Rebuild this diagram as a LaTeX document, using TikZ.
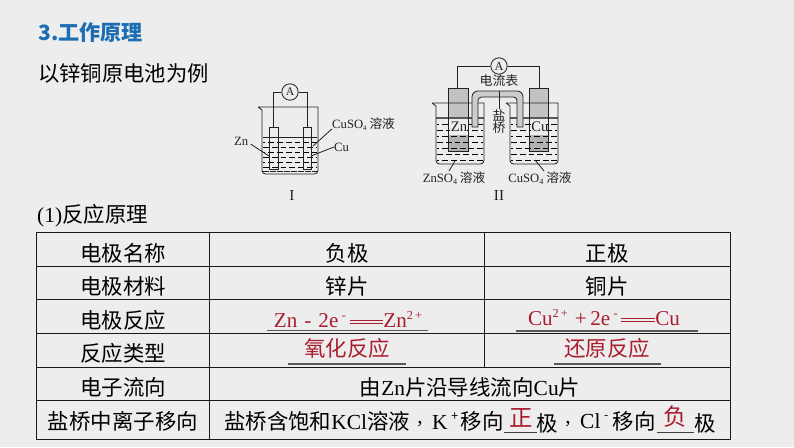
\documentclass[tikz,border=0pt]{standalone}
\usepackage{fontspec}
\setmainfont{Noto Sans CJK SC}
\newfontfamily\latin{Liberation Serif}
\definecolor{pagegray}{HTML}{EDEDED}
\definecolor{titleblue}{HTML}{1C6DB3}
\definecolor{answerred}{HTML}{A91D2F}
\definecolor{inkgray}{HTML}{222222}
\def\sups#1{\raisebox{0.42em}{\fontsize{10.5}{10}\selectfont #1}}
\def\longeq{\rlap{\rule[3.4pt]{29pt}{0.6pt}}\rule[5.8pt]{29pt}{0.6pt}}
\def\liquid(#1,#2,#3,#4,#5){\foreach \row [count=\n] in {#3,#5,...,#4} {
		\pgfmathsetmacro{\shift}{mod(\n,2)*3}
		\draw[line width=0.55pt, dash pattern=on 5pt off 2.5pt, dash phase=\shift pt] (#1, \row) -- (#2, \row);
	}}
\tikzset{
	every node/.style={inner sep=0pt, text=black},
	cell/.style={font=\fontsize{18.3}{20}\selectfont},
	answer/.style={font=\fontsize{18.3}{20}\selectfont, text=answerred},
	fig/.style={font=\fontsize{10.8}{12}\selectfont, text=inkgray},
	rule/.style={line width=0.8pt, color=black!90},
	wire/.style={line width=0.7pt, color=inkgray},
	blank/.style={line width=0.9pt, color=black!65}
}

\begin{document}
\begin{tikzpicture}[x=0.03cm, y=-0.03cm]
		%%%%% START %%%%%
		\useasboundingbox (0, 0) rectangle (794, 447);
		\fill[pagegray] (0, 0) rectangle (794, 447);
		
		\node[font=\fontsize{18}{20}\selectfont\bfseries, text=titleblue, anchor=west] (title) at (38, 33) {3.工作原理};
		\node[font=\fontsize{18.2}{20}\selectfont, anchor=west] (intro) at (38, 73) {以锌铜原电池为例};
		\node[font=\fontsize{18.3}{20}\selectfont, anchor=west] (heading) at (37, 215.5) {{\latin (1)}反应原理};
		
		%%%%% cell I %%%%%
		\node[draw=inkgray, line width=0.7pt, circle, minimum size=14pt, font=\fontsize{10}{10}\selectfont, text=inkgray] (ampA) at (290, 92) {\latin A};
		\coordinate (zntopA) at (273, 127);
		\coordinate (cutopA) at (307, 127);
		\draw[wire] (ampA) -- (273, 92) -- (zntopA);
		\draw[wire] (ampA) -- (307, 92) -- (cutopA);
		
		\liquid(263, 317, 142, 168, 147);
		\draw[line width=1.3pt, color=inkgray] (262.5, 137.5) -- (317, 137.5);
		\draw[line width=1.3pt, color=inkgray, dash pattern=on 5pt off 1pt] (263, 171.5) -- (317, 171.5);
		\draw[wire] (258, 107) -- (262, 110) [rounded corners=3pt] -- (262, 174) -- (318, 174) [sharp corners] -- (318, 107) -- (258, 107);
		\draw[wire] (269, 127) rectangle (278, 169);
		\draw[wire] (303, 127) rectangle (311, 169);
		
		\node[fig, anchor=west] (znA) at (234, 141) {\latin Zn};
		\node[fig, anchor=west] (cuA) at (334, 147) {\latin Cu};
		\node[fig, anchor=west] (cusoA) at (332, 124) {{\latin CuSO\raisebox{-0.2em}{\fontsize{6}{6}\selectfont 4}} 溶液};
		\node[font=\fontsize{13}{14}\selectfont\latin, text=inkgray] (labelA) at (292, 196) {I};
		\coordinate (znendA) at (269, 156);
		\coordinate (cuendA) at (311, 156);
		\coordinate (cusoendA) at (313, 146);
		\draw[wire] (znA.east) ++(2, 3) -- (znendA);
		\draw[wire] (cuA.west) -- (cuendA);
		\draw[wire] (cusoA.south west) ++(0, -2) -- (cusoendA);
		
		%%%%% cell II %%%%%
		\node[draw=inkgray, line width=0.7pt, circle, minimum size=14pt, font=\fontsize{10.5}{10}\selectfont, text=inkgray] (ampB) at (499, 66) {\latin A};
		\coordinate (zntopB) at (457, 88);
		\coordinate (cutopB) at (539, 88);
		\draw[wire] (ampB) -- (457, 66) -- (zntopB);
		\draw[wire] (ampB) -- (539, 66) -- (cutopB);
		
		\fill[black!24] (448, 88) rectangle (468, 118);
		\fill[black!24] (529, 88) rectangle (548, 118);
		\fill[black!30] (448, 135) rectangle (468, 151);
		\fill[black!30] (529, 135) rectangle (548, 151);
		\liquid(437, 483, 124, 160, 130);
		\liquid(511, 557, 124, 160, 130);
		\draw[line width=1.6pt, color=black!65] (436, 118) -- (484, 118);
		\draw[line width=1.6pt, color=black!65] (510, 118) -- (558, 118);
		\fill[pagegray] (450, 120) rectangle (467, 134);
		\fill[pagegray] (531, 120) rectangle (547, 134);
		\draw[wire] (448, 88) rectangle (468, 151);
		\draw[wire] (529, 88) rectangle (548, 151);
		
		\draw[wire] (432, 103) -- (436, 106) [rounded corners=3pt] -- (436, 164) -- (484, 164) [sharp corners] -- (484, 103) -- (432, 103);
		\draw[wire] (506, 103) -- (510, 106) [rounded corners=3pt] -- (510, 164) -- (558, 164) [sharp corners] -- (558, 103) -- (506, 103);
		
		\draw[wire, fill=black!20] (472, 127) [rounded corners=5pt] -- (472, 91) -- (523, 91) [sharp corners] -- (523, 127) -- (517, 127) [rounded corners=3pt] -- (517, 97) -- (478, 97) [sharp corners] -- (478, 127) -- cycle;
		
		\node[fig, font=\fontsize{11}{12}\selectfont] (meterB) at (499, 81) {电流表};
		\node[fig, font=\fontsize{11}{12}\selectfont] (saltB) at (499, 115) {盐};
		\node[fig, font=\fontsize{11}{12}\selectfont] (bridgeB) at (499, 128) {桥};
		\node[fig, font=\fontsize{12.5}{14}\selectfont] (znB) at (459, 127) {\latin Zn};
		\node[fig, font=\fontsize{12.5}{14}\selectfont] (cuB) at (540, 127) {\latin Cu};
		\node[fig] (znsoB) at (454, 178) {{\latin ZnSO\raisebox{-0.2em}{\fontsize{7}{7}\selectfont 4}} 溶液};
		\node[fig] (cusoB) at (540, 178) {{\latin CuSO\raisebox{-0.2em}{\fontsize{7}{7}\selectfont 4}} 溶液};
		\node[font=\fontsize{13}{14}\selectfont\latin, text=inkgray] (labelB) at (499, 196) {II};
		\coordinate (bridgeendB) at (499, 91);
		\coordinate (znendB) at (455, 161);
		\coordinate (cuendB) at (535, 160);
		\draw[wire] (saltB.north) -- (bridgeendB);
		\draw[wire] (449, 171) -- (znendB);
		\draw[wire] (544, 171) -- (cuendB);
		
		%%%%% table %%%%%
		\draw[rule] (36.5, 232.5) rectangle (730.5, 439);
		\foreach \y in {266, 299.5, 333.5, 367, 400}
		\draw[rule] (36.5, \y) -- (730.5, \y);
		\draw[rule] (209.5, 232.5) -- (209.5, 439);
		\draw[rule] (484.5, 232.5) -- (484.5, 367);
		
		\node[cell] (nameL) at (123, 253) {电极名称};
		\node[cell] (matL) at (123, 286) {电极材料};
		\node[cell] (reacL) at (123, 320) {电极反应};
		\node[cell] (typeL) at (123, 353) {反应类型};
		\node[cell] (flowL) at (123, 387) {电子流向};
		\node[cell] (ionL) at (123, 421) {盐桥中离子移向};
		
		\node[cell] (nameN) at (347, 253) {负极};
		\node[cell] (nameP) at (607, 253) {正极};
		\node[cell] (matN) at (347, 286) {锌片};
		\node[cell] (matP) at (607, 286) {铜片};
		
		\node[answer, font=\fontsize{18}{20}\selectfont\latin] (reacN) at (348, 319.5) {Zn\,\,-\,\,2e\,\sups{-}\,\longeq Zn\sups{2\,+}};
		\node[answer, font=\fontsize{18}{20}\selectfont\latin] (reacP) at (604, 317.5) {Cu\sups{2\,+}\,\,+\,2e\,\sups{-}\,\longeq Cu};
		\node[answer] (typeN) at (347, 348) {氧化反应};
		\node[answer] (typeP) at (607, 348) {还原反应};
		
		\draw[blank] (267, 330.5) -- (428, 330.5);
		\draw[blank] (516, 331) -- (698, 331);
		\draw[blank] (288, 364) -- (406, 364);
		\draw[blank] (554, 364) -- (661, 364);
		
		\node[cell] (flowC) at (470, 387) {由{\latin Zn}片沿导线流向{\latin Cu}片};
		
		\node[cell, anchor=west] (ionA) at (224, 421) {盐桥含饱和{\latin KCl}溶液};
		\node[cell] (commaA) at (420, 424) {\latin ,};
		\node[cell, anchor=west] (ionK) at (432, 421) {{\latin K}\,\sups{+}};
		\node[cell, anchor=east] (ionB) at (504, 421) {移向};
		\node[cell] (unitP) at (547, 423) {极};
		\node[cell] (commaB) at (568, 424) {\latin ,};
		\node[cell, anchor=west] (ionCl) at (580, 421) {{\latin Cl}\,\sups{-}};
		\node[cell, anchor=east] (ionC) at (656, 421) {移向};
		\node[cell] (unitN) at (705, 423) {极};
		\node[answer, font=\fontsize{20}{22}\selectfont] (ansP) at (521, 418) {正};
		\node[answer, font=\fontsize{20}{22}\selectfont] (ansN) at (675, 417) {负};
		\draw[line width=0.9pt, color=black!75] (504, 432.5) -- (537, 432.5);
		\draw[line width=0.9pt, color=black!75] (657, 432.5) -- (694, 432.5);
		%%%%% END %%%%%
	\end{tikzpicture}
\end{document}
